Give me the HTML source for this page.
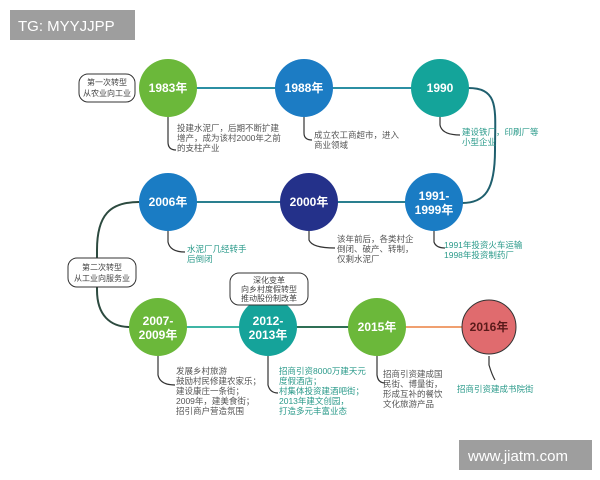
<!DOCTYPE html>
<html><head><meta charset="utf-8"><style>
body{margin:0;background:#fff;}
svg{display:block;font-family:"Liberation Sans","Noto Sans CJK SC",sans-serif;}
.y{font-weight:bold;fill:#fff;font-size:12px;text-anchor:middle;}
.n{font-size:8.5px;fill:#555;}
.t{font-size:8.5px;fill:#2a9a8a;}
.b{font-size:8px;fill:#444;text-anchor:middle;}
</style></head><body>
<svg width="600" height="480" viewBox="0 0 600 480">
<rect width="600" height="480" fill="#fff"/>
<rect x="10" y="10" width="125" height="30" fill="#9e9e9e"/>
<text x="18" y="31" font-size="15" fill="#fff">TG: MYYJJPP</text>
<rect x="459" y="440" width="133" height="30" fill="#9e9e9e"/>
<text x="468" y="461" font-size="15" fill="#fff">www.jiatm.com</text>
<!-- connectors -->
<g fill="none" stroke-width="2">
<line x1="168" y1="88" x2="440" y2="88" stroke="#2b8fa3"/>
<path d="M468 88 C500 88 495 110 495 150 C495 190 485 203 462 203" stroke="#1f5f6e"/>
<line x1="168" y1="202" x2="434" y2="202" stroke="#2a7f8f"/>
<path d="M139 202 C110 202 97 215 97 250 L97 290 C97 315 110 327 130 327" stroke="#2c4a3f"/>
<line x1="158" y1="327" x2="268" y2="327" stroke="#3fb5a5"/>
<line x1="268" y1="327" x2="377" y2="327" stroke="#2f6f55"/>
<line x1="377" y1="327" x2="489" y2="327" stroke="#f0a070"/>
</g>
<!-- note brackets -->
<g fill="none" stroke="#333" stroke-width="1.2">
<path d="M168 117 L168 142 Q168 150 176 150"/>
<path d="M304 117 L304 133 Q304 140 312 140"/>
<path d="M440 117 L440 125 Q442 135 460 135"/>
<path d="M168 231 L168 242 Q170 252 185 252"/>
<path d="M309 231 L309 240 Q312 248 335 248"/>
<path d="M434 231 L434 242 Q436 248 445 248"/>
<path d="M158 356 L158 375 Q160 385 175 385"/>
<path d="M268 356 L268 385 Q270 393 278 393"/>
<path d="M377 356 L377 375 Q378 383 385 383"/>
<path d="M489 356 L489 365 Q492 375 495 380"/>
</g>
<!-- circles -->
<circle cx="168" cy="88" r="29" fill="#6bb83a"/>
<circle cx="304" cy="88" r="29" fill="#1c7cc4"/>
<circle cx="440" cy="88" r="29" fill="#14a49a"/>
<circle cx="168" cy="202" r="29" fill="#1a7cc4"/>
<circle cx="309" cy="202" r="29" fill="#24318a"/>
<circle cx="434" cy="202" r="29" fill="#1a7cc4"/>
<circle cx="158" cy="327" r="29" fill="#6bb83a"/>
<circle cx="268" cy="327" r="29" fill="#15a39a"/>
<circle cx="377" cy="327" r="29" fill="#6bb83a"/>
<circle cx="489" cy="327" r="27" fill="#e06b6e" stroke="#333" stroke-width="1"/>
<text class="y" x="168" y="92">1983年</text>
<text class="y" x="304" y="92">1988年</text>
<text class="y" x="440" y="92">1990</text>
<text class="y" x="168" y="206">2006年</text>
<text class="y" x="309" y="206">2000年</text>
<text class="y" x="434" y="200">1991-</text>
<text class="y" x="434" y="214">1999年</text>
<text class="y" x="158" y="325">2007-</text>
<text class="y" x="158" y="339">2009年</text>
<text class="y" x="268" y="325">2012-</text>
<text class="y" x="268" y="339">2013年</text>
<text class="y" x="377" y="331">2015年</text>
<text class="y" x="489" y="331" style="fill:#5a1a1a">2016年</text>
<!-- label boxes -->
<rect x="79" y="74" width="56" height="28" rx="9" fill="#fff" stroke="#333"/>
<text class="b" x="107" y="85">第一次转型</text><text class="b" x="107" y="96">从农业向工业</text>
<rect x="68" y="258" width="68" height="29" rx="9" fill="#fff" stroke="#333"/>
<text class="b" x="102" y="270">第二次转型</text><text class="b" x="102" y="281">从工业向服务业</text>
<rect x="230" y="273" width="78" height="32" rx="9" fill="#fff" stroke="#333"/>
<text class="b" x="269" y="283">深化变革</text><text class="b" x="269" y="292">向乡村度假转型</text><text class="b" x="269" y="301">推动股份制改革</text>
<!-- notes -->
<text class="n" x="177" y="131">投建水泥厂，后期不断扩建</text>
<text class="n" x="177" y="141">增产，成为该村2000年之前</text>
<text class="n" x="177" y="151">的支柱产业</text>
<text class="n" x="314" y="138">成立农工商超市，进入</text>
<text class="n" x="314" y="148">商业领域</text>
<text class="t" x="462" y="135">建设铁厂，印刷厂等</text>
<text class="t" x="462" y="145">小型企业</text>
<text class="t" x="187" y="252">水泥厂几经转手</text>
<text class="t" x="187" y="262">后倒闭</text>
<text class="n" x="337" y="242">该年前后，各类村企</text>
<text class="n" x="337" y="252">倒闭、破产、转制，</text>
<text class="n" x="337" y="262">仅剩水泥厂</text>
<text class="t" x="444" y="248">1991年投资火车运输</text>
<text class="t" x="444" y="258">1998年投资制药厂</text>
<text class="n" x="176" y="374">发展乡村旅游</text>
<text class="n" x="176" y="384">鼓励村民修建农家乐；</text>
<text class="n" x="176" y="394">建设康庄一条街；</text>
<text class="n" x="176" y="404">2009年，建美食街；</text>
<text class="n" x="176" y="414">招引商户营造氛围</text>
<text class="t" x="279" y="374">招商引资8000万建天元</text>
<text class="t" x="279" y="384">度假酒店；</text>
<text class="t" x="279" y="394">村集体投资建酒吧街；</text>
<text class="t" x="279" y="404">2013年建文创园，</text>
<text class="t" x="279" y="414">打造多元丰富业态</text>
<text class="n" x="383" y="377">招商引资建成国</text>
<text class="n" x="383" y="387">民街、博量街，</text>
<text class="n" x="383" y="397">形成互补的餐饮</text>
<text class="n" x="383" y="407">文化旅游产品</text>
<text class="t" x="457" y="392">招商引资建成书院街</text>
</svg>
</body></html>
